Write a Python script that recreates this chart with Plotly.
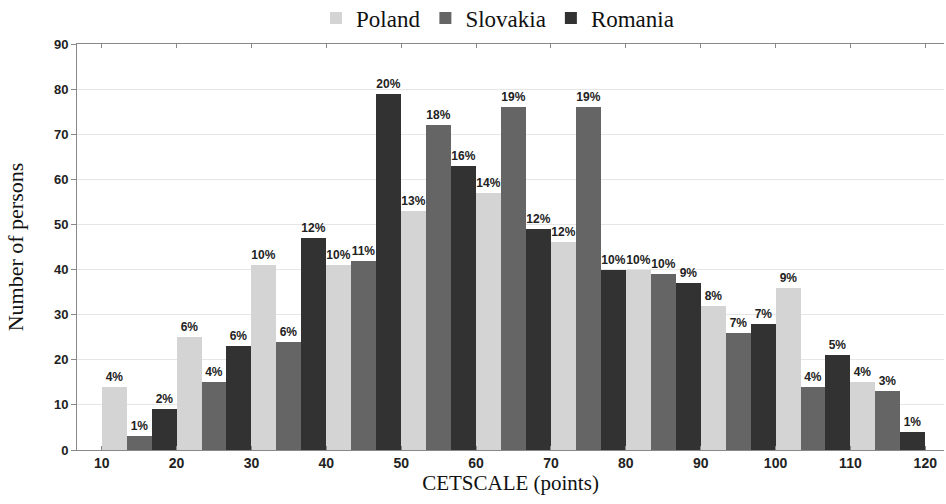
import plotly.graph_objects as go

group_centers = [15, 25, 35, 45, 55, 65, 75, 85, 95, 105, 115]
tick_vals = [10, 20, 30, 40, 50, 60, 70, 80, 90, 100, 110, 120]

poland = [14, 25, 41, 41, 53, 57, 46, 40, 32, 36, 15]
poland_pct = ["4%", "6%", "10%", "10%", "13%", "14%", "12%", "10%", "8%", "9%", "4%"]

slovakia = [3, 15, 24, 42, 72, 76, 76, 39, 26, 14, 13]
slovakia_pct = ["1%", "4%", "6%", "11%", "18%", "19%", "19%", "10%", "7%", "4%", "3%"]

romania = [9, 23, 47, 79, 63, 49, 40, 37, 28, 21, 4]
romania_pct = ["2%", "6%", "12%", "20%", "16%", "12%", "10%", "9%", "7%", "5%", "1%"]

series = [
    ("Poland", poland, poland_pct, "#d4d4d4"),
    ("Slovakia", slovakia, slovakia_pct, "#656565"),
    ("Romania", romania, romania_pct, "#323232"),
]

SERIF = "Liberation Serif"
SANS = "Liberation Sans"

fig = go.Figure()
for name, vals, pct, color in series:
    fig.add_trace(go.Bar(
        name=name, x=group_centers, y=vals, text=pct,
        textposition="outside", cliponaxis=False,
        textfont=dict(family=SANS, size=12, color="#222222", weight="bold"),
        marker=dict(color=color, line=dict(width=0)),
    ))

fig.update_layout(
    width=946, height=504,
    font=dict(family=SERIF),
    barmode="group", bargap=0, bargroupgap=0,
    plot_bgcolor="white", paper_bgcolor="white",
    margin=dict(l=77, r=2, t=44, b=54, autoexpand=False),
    legend=dict(orientation="h", x=0.485, xanchor="center", y=1.064, yanchor="middle",
                font=dict(family=SERIF, size=23, color="#111111", weight="normal"),
                itemwidth=30, tracegroupgap=0),
    showlegend=True,
)
fig.update_xaxes(
    range=[6.7, 122.5], tickvals=tick_vals, ticktext=[str(v) for v in tick_vals],
    showline=True, linecolor="#888888", linewidth=1, mirror="ticks",
    ticks="inside", ticklen=4, tickcolor="#888888",
    showgrid=False, zeroline=False, automargin=False,
    tickfont=dict(family=SANS, size=14, color="#222222", weight="bold"),
    title=dict(text="CETSCALE (points)", standoff=4,
               font=dict(family=SERIF, size=21, color="#111111")),
)
fig.update_yaxes(
    range=[0, 90], dtick=10,
    showline=True, linecolor="#888888", linewidth=1,
    ticks="outside", ticklen=5, tickcolor="#888888",
    showgrid=True, gridcolor="#e6e6e6", gridwidth=1, zeroline=False, automargin=False,
    tickfont=dict(family=SANS, size=13, color="#222222", weight="bold"),
    title=dict(text="Number of persons", standoff=24,
               font=dict(family=SERIF, size=22, color="#111111")),
)

fig.write_html("out.html", config={"displayModeBar": False},
               post_script="document.body.style.margin='0';")
